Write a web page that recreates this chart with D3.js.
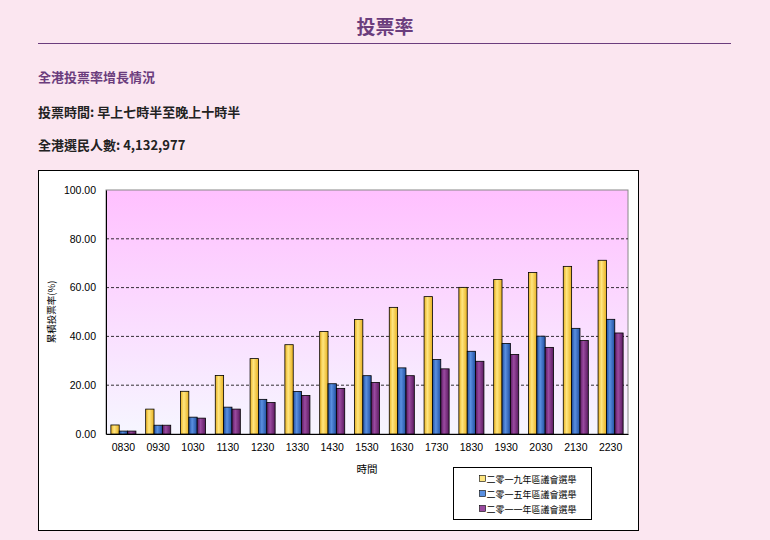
<!DOCTYPE html>
<html><head><meta charset="utf-8">
<script src="https://cdn.jsdelivr.net/npm/d3@7"></script>
<style>
body{margin:0;background:#fbe6f0;font-family:"Noto Sans CJK TC","Noto Sans",sans-serif;}
</style></head>
<body><svg id="c" width="770" height="540"></svg>
<script>
const times = ["0830","0930","1030","1130","1230","1330","1430","1530","1630","1730","1830","1930","2030","2130","2230"];
const seriesNames = ["二零一九年區議會選舉","二零一五年區議會選舉","二零一一年區議會選舉"];
const v2019 = [3.7,10.2,17.5,24.0,30.9,36.6,42.0,46.9,51.9,56.3,60.1,63.3,66.2,68.7,71.2];
const v2015 = [1.2,3.6,6.9,11.0,14.2,17.4,20.6,23.9,27.1,30.5,33.9,37.1,40.1,43.3,47.0];
const v2011 = [1.2,3.6,6.5,10.2,12.9,15.8,18.7,21.1,23.9,26.7,29.8,32.6,35.5,38.3,41.4];
const yTicks = [0,20,40,60,80,100];
const colors = [["#ffe680","#e8b020"],["#5a8fe0","#1f4fa0"],["#9a4aa0","#5a1a60"]];

const svg = d3.select("#c");
const purple = "#6b3d7d";
svg.append("text").attr("x",385).attr("y",34).attr("text-anchor","middle")
  .attr("font-size",19).attr("font-weight","bold").attr("fill",purple).text("投票率");
svg.append("line").attr("x1",38).attr("x2",731).attr("y1",43.5).attr("y2",43.5).attr("stroke",purple);
svg.append("text").attr("x",38).attr("y",82).attr("font-size",13).attr("font-weight",600).attr("fill",purple).text("全港投票率增長情況");
svg.append("text").attr("x",38).attr("y",117).attr("font-size",13).attr("font-weight",600).attr("fill","#222").text("投票時間: 早上七時半至晚上十時半");
svg.append("text").attr("x",38).attr("y",150).attr("font-size",13).attr("font-weight",600).attr("fill","#222").text("全港選民人數: 4,132,977");

svg.append("rect").attr("x",38.5).attr("y",170.5).attr("width",600).attr("height",360)
  .attr("fill","#fff").attr("stroke","#000");

const defs = svg.append("defs");
const bg = defs.append("linearGradient").attr("id","bg").attr("x1",0).attr("x2",0).attr("y1",0).attr("y2",1);
bg.append("stop").attr("offset","0%").attr("stop-color","#ffc0ff");
bg.append("stop").attr("offset","100%").attr("stop-color","#f6f6ff");
colors.forEach((c,i)=>{
  const g = defs.append("linearGradient").attr("id","b"+i);
  g.append("stop").attr("offset","0%").attr("stop-color",c[1]);
  g.append("stop").attr("offset","40%").attr("stop-color",c[0]);
  g.append("stop").attr("offset","100%").attr("stop-color",c[1]);
});

const L=106,R=628,T=190,B=434;
const x = d3.scaleBand().domain(times).range([L,R]).paddingInner(0.28).paddingOuter(0.14);
const xs = d3.scaleBand().domain([0,1,2]).range([0,x.bandwidth()]);
const y = d3.scaleLinear().domain([0,100]).range([B,T]);

svg.append("rect").attr("x",L).attr("y",T).attr("width",R-L).attr("height",B-T).attr("fill","url(#bg)").attr("stroke","#888");
svg.append("g").selectAll("line").data(yTicks.slice(1,5)).join("line")
  .attr("x1",L).attr("x2",R).attr("y1",d=>y(d)).attr("y2",d=>y(d))
  .attr("stroke","#000").attr("stroke-dasharray","3,2").attr("stroke-width",0.8);

const all=[v2019,v2015,v2011];
all.forEach((vals,si)=>{
  svg.append("g").selectAll("rect").data(vals).join("rect")
    .attr("x",(d,i)=>x(times[i])+xs(si)).attr("width",xs.bandwidth())
    .attr("y",d=>y(d)).attr("height",d=>B-y(d))
    .attr("fill","url(#b"+si+")").attr("stroke","#000").attr("stroke-width",0.8);
});

const xa = svg.append("g").attr("transform",`translate(0,${B})`)
  .call(d3.axisBottom(x).tickSize(0).tickPadding(10));
xa.select(".domain").attr("stroke","#000");
xa.selectAll("text").attr("font-family","Liberation Sans, Arial").attr("font-size",10.5).attr("fill","#000");
const ya = svg.append("g").attr("transform",`translate(${L},0)`)
  .call(d3.axisLeft(y).tickValues(yTicks).tickSize(0).tickPadding(10).tickFormat(d3.format(".2f")));
ya.select(".domain").attr("stroke","#000");
ya.selectAll("text").attr("font-family","Liberation Sans, Arial").attr("font-size",10.5).attr("fill","#000");

svg.append("text").attr("x",367).attr("y",473).attr("text-anchor","middle").attr("font-size",10.5).text("時間");
svg.append("text").attr("transform","translate(55,312) rotate(-90)").attr("text-anchor","middle")
  .attr("font-size",9.5).text("累積投票率(%)");

const lg = svg.append("g").attr("transform","translate(453.5,467.5)");
lg.append("rect").attr("width",138).attr("height",52).attr("fill","#fff").attr("stroke","#000");
seriesNames.forEach((n,i)=>{
  lg.append("rect").attr("x",26).attr("y",8+i*15).attr("width",6).attr("height",6)
    .attr("fill",colors[i][0]).attr("stroke","#000").attr("stroke-width",0.6);
  lg.append("text").attr("x",33).attr("y",15+i*15).attr("font-size",9).text(n);
});
</script></body></html>
